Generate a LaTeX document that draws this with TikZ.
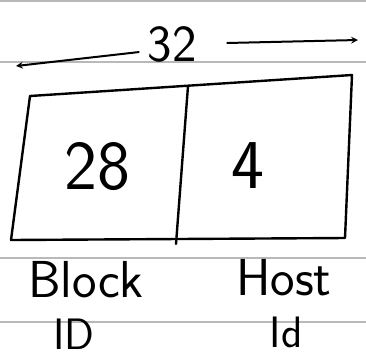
\documentclass[tikz,border=0pt]{standalone}
\usepackage{tikz}
\usetikzlibrary{arrows}
\tikzstyle{arrow} = [line width=2pt,->,>=stealth]
\tikzstyle{rule} = [gray!55, line width=1.2pt]
\tikzstyle{pen} = [line width=2.4pt, line join=round, line cap=round]
\tikzstyle{big} = [inner sep=0pt, font=\sffamily\fontsize{70}{70}\selectfont]
\tikzstyle{small} = [inner sep=0pt, font=\sffamily\fontsize{52}{52}\selectfont]
\tikzstyle{tiny} = [inner sep=0pt, font=\sffamily\fontsize{44}{44}\selectfont]

\begin{document}
\begin{tikzpicture}[x=1pt,y=-1pt]
    \useasboundingbox (0,0) rectangle (366,360);
    \clip (0,0) rectangle (366,360);

    % notebook lines
    \foreach \y in {1,62,258,322}
        \draw[rule] (0,\y) -- (366,\y);

    % the address box
    \coordinate (tl) at (30,96);
    \coordinate (tr) at (352,75);
    \coordinate (br) at (345,238);
    \coordinate (bl) at (11,240);
    \coordinate (dtop) at (188,86);
    \coordinate (dbot) at (176,244);
    \draw[pen] (tl) -- (tr) -- (br) -- (bl) -- cycle;
    \draw[pen] (dtop) -- (dbot);

    \node[small] (bits) at (172,44) {32};
    \coordinate (lend) at (16,66);
    \coordinate (rend) at (358,40);
    \draw[arrow] (bits.west) ++(-8,8) -- (lend);
    \draw[arrow] (bits.east) ++(30,-1) -- (rend);

    % fields
    \node[big] (block) at (97,167) {28};
    \node[big] (host) at (248,166) {4};

    \node[small] (blockl) at (86,280) {Block};
    \node[small] (hostl) at (284,278) {Host};
    \node[tiny] (blockid) at (74,334) {ID};
    \node[tiny] (hostid) at (286,332) {Id};
\end{tikzpicture}
\end{document}
